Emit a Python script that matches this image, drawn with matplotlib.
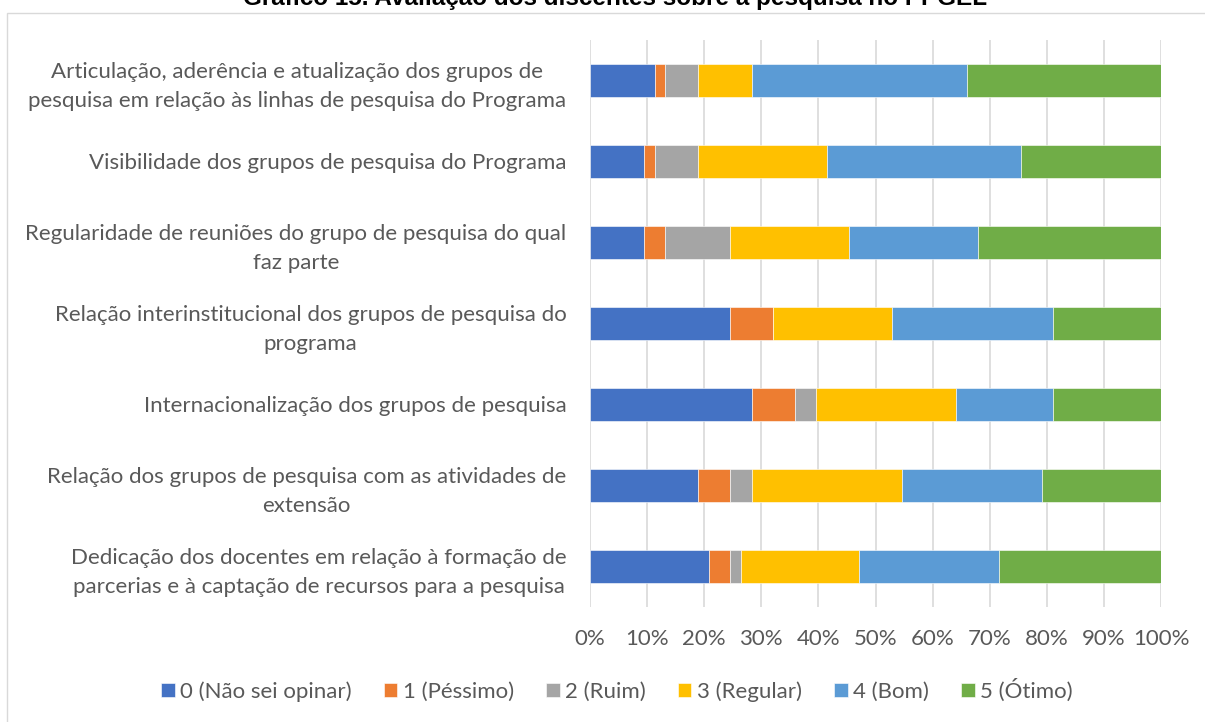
import matplotlib

matplotlib.use("Agg")
import matplotlib.pyplot as plt
import numpy as np
from matplotlib.patches import Rectangle

# categories, top to bottom as shown
categories = [
    "Articulação, aderência e atualização dos grupos de\npesquisa em relação às linhas de pesquisa do Programa",
    "Visibilidade dos grupos de pesquisa do Programa",
    "Regularidade de reuniões do grupo de pesquisa do qual\nfaz parte",
    "Relação interinstitucional dos grupos de pesquisa do\nprograma",
    "Internacionalização dos grupos de pesquisa",
    "Relação dos grupos de pesquisa com as atividades de\nextensão",
    "Dedicação dos docentes em relação à formação de\nparcerias e à captação de recursos para a pesquisa",
]

# number of answers per rating (same order as categories)
nao_sei = [6, 5, 5, 13, 15, 10, 11]
pessimo = [1, 1, 2, 4, 4, 3, 2]
ruim = [3, 4, 6, 0, 2, 2, 1]
regular = [5, 12, 11, 11, 13, 14, 11]
bom = [20, 18, 12, 15, 9, 13, 13]
otimo = [18, 13, 17, 10, 10, 11, 15]

series_labels = ["0 (Não sei opinar)", "1 (Péssimo)", "2 (Ruim)",
                 "3 (Regular)", "4 (Bom)", "5 (Ótimo)"]
colors = ["#4472C4", "#ED7D31", "#A5A5A5", "#FFC000", "#5B9BD5", "#70AD47"]
ticks = [0, 10, 20, 30, 40, 50, 60, 70, 80, 90, 100]

title = "Gráfico 15. Avaliação dos discentes sobre a pesquisa no PPGEL"

FONT = ["Lato", "DejaVu Sans"]
GREY = "#595959"

counts = np.array([nao_sei, pessimo, ruim, regular, bom, otimo], dtype=float)
share = counts / counts.sum(axis=0) * 100

W, H = 1205, 722
fig = plt.figure(figsize=(W / 100, H / 100), dpi=100)
ax = fig.add_axes([590 / W, 1 - 607 / H, (1161 - 590) / W, (607 - 40) / H])

y = np.arange(len(categories))
left = np.zeros(len(categories))
for vals, lab, c in zip(share, series_labels, colors):
    ax.barh(y, vals, left=left, height=0.4, color=c, label=lab,
            edgecolor="white", linewidth=0.4, zorder=3)
    left += vals

ax.set_xlim(0, 100)
ax.set_ylim(len(categories) - 0.5, -0.5)
ax.set_xticks(ticks)
ax.set_xticklabels([f"{t}%" for t in ticks], fontsize=16, color=GREY, family=FONT)
ax.set_yticks(y)
ax.set_yticklabels(categories, fontsize=16, color=GREY, family=FONT,
                   multialignment="center", linespacing=1.55)
ax.tick_params(axis="x", length=0, pad=16)
ax.tick_params(axis="y", length=0, pad=17)
ax.grid(True, axis="x", color="#d9d9d9", linewidth=1.2, zorder=0)
for s in ax.spines.values():
    s.set_visible(False)

fig.legend(loc="center", bbox_to_anchor=(617 / W, 1 - 690 / H), ncol=6,
           frameon=False, handlelength=0.6, handleheight=0.6,
           handletextpad=0.25, columnspacing=1.45,
           prop={"family": FONT, "size": 16}, labelcolor=GREY)

# chart frame (top/left visible, rest runs off the page)
fig.add_artist(Rectangle((7 / W, -0.2), 2, 1 - 13 / H + 0.2,
                         transform=fig.transFigure, fill=False,
                         edgecolor="#d9d9d9", linewidth=1.0))

fig.text(615 / W, 1 - 5 / H, title, ha="center", va="baseline",
         fontsize=17.5, fontweight="bold", family="Liberation Sans")

fig.savefig("out.png", dpi=100)
